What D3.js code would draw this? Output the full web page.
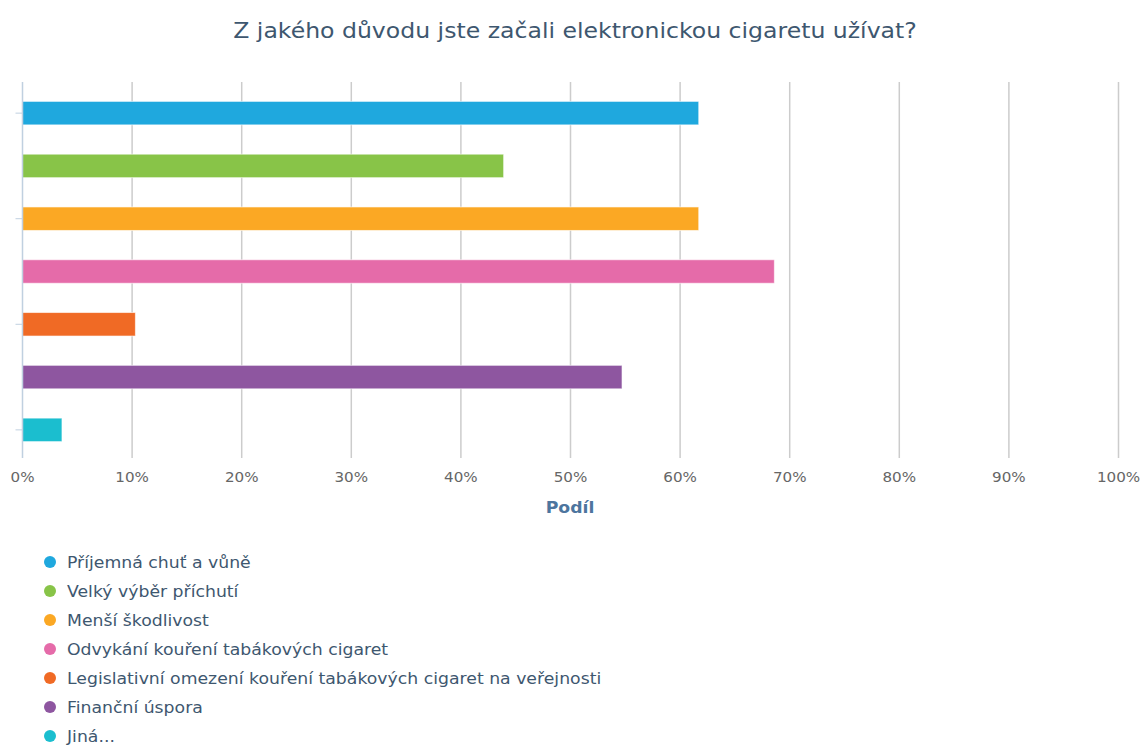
<!DOCTYPE html>
<html>
<head>
<meta charset="utf-8">
<script src="https://cdn.jsdelivr.net/npm/d3@7"></script>
<style>
  html, body { margin: 0; padding: 0; background: #fff; }
  svg { display: block; font-family: "DejaVu Sans", sans-serif; }
</style>
</head>
<body>
<svg id="chart" width="1144" height="745"></svg>
<script>
// Survey answers: reasons for starting to use e-cigarettes (share of respondents, %)
const categories = [
  "Příjemná chuť a vůně",
  "Velký výběr příchutí",
  "Menší škodlivost",
  "Odvykání kouření tabákových cigaret",
  "Legislativní omezení kouření tabákových cigaret na veřejnosti",
  "Finanční úspora",
  "Jiná..."
];
const values = [61.7, 43.9, 61.7, 68.6, 10.3, 54.7, 3.6];
const colors = ["#1fa8de", "#88c448", "#fba824", "#e56ba9", "#f06a25", "#8e56a0", "#1bbecf"];
const xTicks = [0, 10, 20, 30, 40, 50, 60, 70, 80, 90, 100];

const svg = d3.select("#chart");
const margin = { left: 22.5, right: 1118.5, top: 82, bottom: 458 };

const x = d3.scaleLinear().domain([0, 100]).range([margin.left, margin.right]);
const y = d3.scaleBand().domain(categories).range([margin.top + 2.5, margin.bottom + 0.5]).paddingInner(0.555).paddingOuter(0.32);

// Title (slightly widened lettering)
svg.append("text")
  .attr("transform", "translate(575,38) scale(1.123,1)")
  .attr("text-anchor", "middle")
  .attr("fill", "#3e576f")
  .style("font-size", "21px")
  .text("Z jakého důvodu jste začali elektronickou cigaretu užívat?");

// Vertical grid lines
svg.append("g").selectAll("line")
  .data(xTicks.filter(d => d > 0))
  .join("line")
  .attr("x1", d => x(d)).attr("x2", d => x(d))
  .attr("y1", margin.top).attr("y2", margin.bottom)
  .attr("stroke", "#cccccc").attr("stroke-width", 1.5);

// Bars
svg.append("g").selectAll("rect")
  .data(categories)
  .join("rect")
  .attr("x", x(0))
  .attr("y", d => y(d))
  .attr("width", (d, i) => x(values[i]) - x(0))
  .attr("height", y.bandwidth())
  .attr("fill", (d, i) => colors[i])
  .attr("stroke", "rgba(255,255,255,0.6)")
  .attr("stroke-width", 1);

// Category axis line and ticks
svg.append("line")
  .attr("x1", x(0)).attr("x2", x(0))
  .attr("y1", margin.top).attr("y2", margin.bottom)
  .attr("stroke", "#c0d0e0").attr("stroke-width", 1.5);

svg.append("g").selectAll("line")
  .data(categories.filter((d, i) => i % 2 === 0))
  .join("line")
  .attr("x1", x(0) - 7).attr("x2", x(0))
  .attr("y1", d => y(d) + y.bandwidth() / 2)
  .attr("y2", d => y(d) + y.bandwidth() / 2)
  .attr("stroke", "#c0d0e0").attr("stroke-width", 1);

// Value axis labels
svg.append("g").selectAll("text")
  .data(xTicks)
  .join("text")
  .attr("transform", d => `translate(${x(d)},482) scale(1.08,1)`)
  .attr("text-anchor", "middle")
  .attr("fill", "#666666")
  .style("font-size", "14px")
  .text(d => d + "%");

// Value axis title
svg.append("text")
  .attr("transform", "translate(570,513) scale(1.08,1)")
  .attr("text-anchor", "middle")
  .attr("fill", "#4d759e")
  .style("font-size", "16px")
  .style("font-weight", "bold")
  .text("Podíl");

// Legend
const legend = svg.append("g").selectAll("g")
  .data(categories)
  .join("g")
  .attr("transform", (d, i) => `translate(0, ${562 + i * 29})`);

legend.append("circle")
  .attr("cx", 50).attr("cy", 0).attr("r", 6)
  .attr("fill", (d, i) => colors[i]);

legend.append("text")
  .attr("transform", "translate(67,6) scale(1.08,1)")
  .attr("fill", "#3e576f")
  .style("font-size", "16px")
  .text(d => d);
</script>
</body>
</html>
